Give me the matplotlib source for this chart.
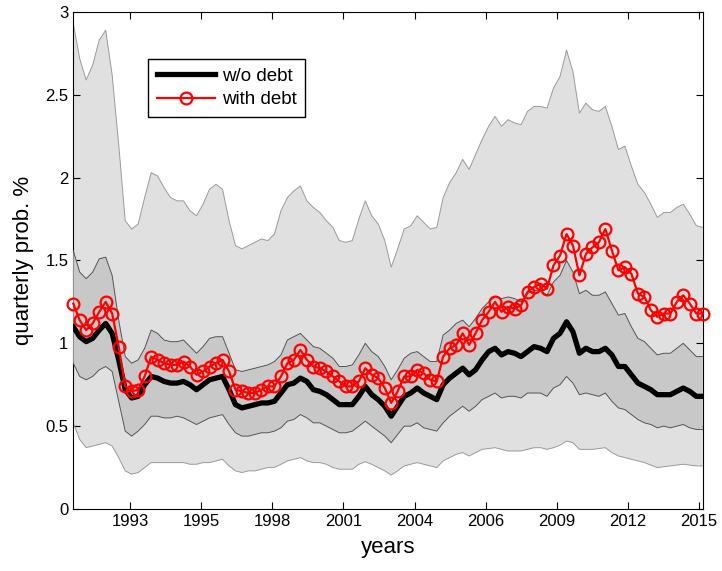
import numpy as np
import pandas as pd
import matplotlib
matplotlib.use("Agg")
import matplotlib.pyplot as plt

plt.rcParams['font.family'] = ['Liberation Sans', 'DejaVu Sans']

# quarterly dates, 1991Q1 .. 2015Q2
quarters = pd.date_range("1991-01-01", "2015-04-01", freq="QS")

# 95% / 5% bands (light gray)
band_hi95 = [2.93, 2.72, 2.59, 2.68, 2.83, 2.89, 2.62, 2.20, 1.74, 1.69,
             1.72, 1.88, 2.03, 2.01, 1.94, 1.88, 1.86, 1.86, 1.80, 1.77,
             1.84, 1.93, 1.96, 1.93, 1.74, 1.59, 1.57, 1.59, 1.61, 1.63,
             1.62, 1.66, 1.80, 1.88, 1.92, 1.95, 1.86, 1.82, 1.79, 1.74,
             1.70, 1.62, 1.61, 1.62, 1.75, 1.86, 1.77, 1.72, 1.62, 1.46,
             1.57, 1.69, 1.71, 1.77, 1.73, 1.69, 1.70, 1.88, 1.97, 2.03,
             2.11, 2.05, 2.14, 2.23, 2.31, 2.37, 2.31, 2.35, 2.33, 2.32,
             2.40, 2.43, 2.43, 2.42, 2.54, 2.61, 2.77, 2.64, 2.39, 2.45,
             2.41, 2.40, 2.43, 2.31, 2.17, 2.19, 2.07, 1.96, 1.91, 1.84,
             1.76, 1.79, 1.79, 1.82, 1.84, 1.78, 1.71, 1.70]
band_lo5 = [0.52, 0.42, 0.37, 0.38, 0.39, 0.40, 0.38, 0.31, 0.23, 0.21,
            0.22, 0.25, 0.28, 0.28, 0.28, 0.28, 0.28, 0.28, 0.27, 0.27,
            0.28, 0.28, 0.29, 0.30, 0.26, 0.23, 0.22, 0.23, 0.23, 0.24,
            0.25, 0.25, 0.27, 0.29, 0.30, 0.31, 0.29, 0.28, 0.28, 0.27,
            0.25, 0.24, 0.24, 0.24, 0.27, 0.285, 0.27, 0.25, 0.23, 0.205,
            0.23, 0.26, 0.27, 0.28, 0.27, 0.26, 0.25, 0.29, 0.31, 0.33,
            0.34, 0.32, 0.34, 0.36, 0.365, 0.37, 0.36, 0.35, 0.35, 0.35,
            0.36, 0.37, 0.37, 0.36, 0.37, 0.385, 0.41, 0.40, 0.36, 0.36,
            0.36, 0.365, 0.37, 0.34, 0.32, 0.31, 0.30, 0.29, 0.28, 0.265,
            0.25, 0.255, 0.26, 0.265, 0.27, 0.265, 0.26, 0.26]

# 75% / 25% bands (dark gray)
band_hi75 = [1.56, 1.43, 1.39, 1.43, 1.51, 1.52, 1.41, 1.14, 0.92, 0.88,
             0.90, 0.97, 1.08, 1.06, 1.02, 1.01, 1.01, 1.02, 0.98, 0.94,
             0.98, 1.03, 1.04, 1.04, 0.94, 0.84, 0.83, 0.84, 0.85, 0.86,
             0.87, 0.89, 0.93, 1.02, 1.04, 1.06, 1.02, 0.98, 0.97, 0.94,
             0.91, 0.86, 0.86, 0.87, 0.93, 1.00, 0.95, 0.92, 0.86, 0.78,
             0.84, 0.91, 0.94, 0.95, 0.92, 0.89, 0.89, 1.05, 1.08, 1.12,
             1.14, 1.10, 1.15, 1.21, 1.25, 1.28, 1.27, 1.28, 1.27, 1.25,
             1.30, 1.32, 1.32, 1.29, 1.37, 1.41, 1.50, 1.43, 1.30, 1.32,
             1.29, 1.29, 1.31, 1.24, 1.17, 1.18, 1.10, 1.03, 1.01, 0.97,
             0.93, 0.94, 0.94, 0.97, 1.00, 0.96, 0.92, 0.92]
band_lo25 = [0.88, 0.80, 0.78, 0.80, 0.84, 0.86, 0.83, 0.65, 0.47, 0.44,
             0.47, 0.51, 0.56, 0.56, 0.55, 0.55, 0.56, 0.55, 0.53, 0.51,
             0.53, 0.55, 0.56, 0.57, 0.51, 0.46, 0.44, 0.44, 0.45, 0.46,
             0.46, 0.47, 0.49, 0.53, 0.54, 0.57, 0.55, 0.52, 0.52, 0.50,
             0.48, 0.46, 0.46, 0.47, 0.50, 0.53, 0.50, 0.47, 0.44, 0.40,
             0.45, 0.50, 0.50, 0.52, 0.49, 0.48, 0.47, 0.52, 0.56, 0.59,
             0.62, 0.59, 0.62, 0.66, 0.68, 0.70, 0.67, 0.68, 0.68, 0.67,
             0.70, 0.70, 0.70, 0.68, 0.73, 0.75, 0.80, 0.76, 0.69, 0.70,
             0.69, 0.68, 0.70, 0.65, 0.61, 0.60, 0.57, 0.54, 0.52, 0.51,
             0.49, 0.50, 0.49, 0.50, 0.51, 0.49, 0.48, 0.48]

wo_debt = [1.10, 1.04, 1.01, 1.03, 1.08, 1.12, 1.06, 0.90, 0.72, 0.67,
           0.68, 0.75, 0.80, 0.79, 0.77, 0.76, 0.76, 0.77, 0.75, 0.72,
           0.75, 0.78, 0.79, 0.80, 0.72, 0.63, 0.61, 0.62, 0.63, 0.64,
           0.64, 0.65, 0.70, 0.75, 0.76, 0.79, 0.77, 0.72, 0.71, 0.69,
           0.66, 0.63, 0.63, 0.63, 0.68, 0.74, 0.69, 0.66, 0.62, 0.56,
           0.62, 0.68, 0.70, 0.73, 0.70, 0.68, 0.66, 0.75, 0.79, 0.82,
           0.85, 0.81, 0.84, 0.90, 0.95, 0.97, 0.93, 0.95, 0.94, 0.92,
           0.95, 0.98, 0.97, 0.95, 1.03, 1.06, 1.13, 1.07, 0.94, 0.97,
           0.95, 0.95, 0.97, 0.93, 0.86, 0.86, 0.81, 0.76, 0.74, 0.72,
           0.69, 0.69, 0.69, 0.71, 0.73, 0.71, 0.68, 0.68]

with_debt = [1.24, 1.14, 1.08, 1.12, 1.19, 1.25, 1.18, 0.98, 0.74, 0.71,
             0.72, 0.80, 0.92, 0.90, 0.88, 0.87, 0.87, 0.89, 0.86, 0.81,
             0.83, 0.86, 0.88, 0.90, 0.83, 0.72, 0.71, 0.70, 0.70, 0.72,
             0.74, 0.74, 0.80, 0.88, 0.90, 0.96, 0.90, 0.86, 0.85, 0.83,
             0.80, 0.77, 0.74, 0.74, 0.77, 0.85, 0.81, 0.79, 0.73, 0.64,
             0.71, 0.80, 0.80, 0.84, 0.82, 0.78, 0.77, 0.92, 0.97, 0.99,
             1.06, 0.99, 1.06, 1.14, 1.19, 1.25, 1.19, 1.22, 1.21, 1.23,
             1.31, 1.34, 1.36, 1.33, 1.47, 1.53, 1.66, 1.59, 1.41, 1.54,
             1.58, 1.61, 1.69, 1.56, 1.44, 1.46, 1.42, 1.30, 1.28, 1.20,
             1.16, 1.18, 1.18, 1.25, 1.29, 1.24, 1.18, 1.18]

# matlab datenum ticks every 1000 days starting 728000 (1993-03-12)
tick_dates = pd.Timestamp("1993-03-12") + pd.to_timedelta(np.arange(9) * 1000, unit="D")
tick_labels = ["1993", "1995", "1998", "2001", "2004", "2006", "2009", "2012", "2015"]
ytick_vals = [0, 0.5, 1, 1.5, 2, 2.5, 3]
ytick_labels = ["0", "0.5", "1", "1.5", "2", "2.5", "3"]

fig = plt.figure(figsize=(7.22, 5.71), dpi=100)
ax = fig.add_axes([0.1015, 0.1086, 0.8718, 0.8704])

ax.fill_between(quarters, band_lo5, band_hi95, facecolor="#e0e0e0", edgecolor="none", zorder=1)
ax.plot(quarters, band_hi95, color="#9a9a9a", lw=0.7, zorder=2)
ax.plot(quarters, band_lo5, color="#9a9a9a", lw=0.7, zorder=2)
ax.fill_between(quarters, band_lo25, band_hi75, facecolor="#c8c8c8", edgecolor="none", zorder=3)
ax.plot(quarters, band_hi75, color="#555555", lw=0.7, zorder=4)
ax.plot(quarters, band_lo25, color="#555555", lw=0.7, zorder=4)

ax.plot(quarters, wo_debt, color="black", lw=3.8, label="w/o debt", zorder=5)
ax.plot(quarters, with_debt, color="red", lw=1.6, marker="o", markersize=8.5,
        markerfacecolor="none", markeredgewidth=1.6, label="with debt", zorder=6, clip_on=False)

ax.set_xlim(quarters[0], quarters[-1])
ax.set_ylim(0, 3)
ax.set_xticks(tick_dates)
ax.set_xticklabels(tick_labels)
ax.set_yticks(ytick_vals)
ax.set_yticklabels(ytick_labels)
ax.tick_params(direction="in", length=5, width=0.8, top=True, right=True, labelsize=12)
for s in ax.spines.values():
    s.set_linewidth(0.8)

ax.set_xlabel("years", fontsize=16, labelpad=6)
ax.set_ylabel("quarterly prob. %", fontsize=16, labelpad=8)

leg = ax.legend(loc="upper left", bbox_to_anchor=(0.119, 0.905), borderaxespad=0,
                fontsize=13.5, fancybox=False, framealpha=1, edgecolor="black",
                handlelength=3.1, handletextpad=0.4, borderpad=0.45, labelspacing=0.35)
leg.get_frame().set_linewidth(1.0)

fig.savefig("out.png", dpi=100)
